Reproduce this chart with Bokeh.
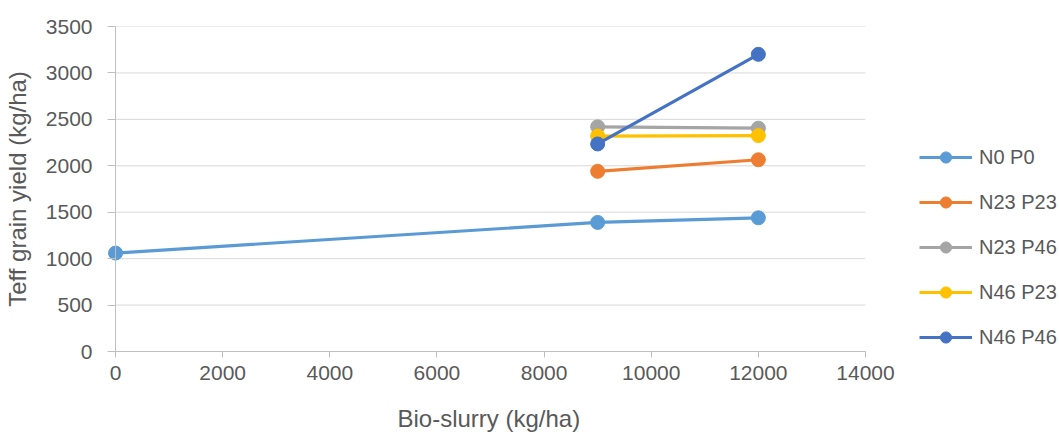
from bokeh.plotting import figure
from bokeh.models import Range1d, Span, Legend, LegendItem, FixedTicker, Title
from bokeh.embed import file_html
from bokeh.resources import INLINE

series_names = ["N0 P0", "N23 P23", "N23 P46", "N46 P23", "N46 P46"]
x_n0p0 = [0, 9000, 12000]
y_n0p0 = [1060, 1390, 1440]
x_pair = [9000, 12000]
y_n23p23 = [1940, 2065]
y_n23p46 = [2420, 2405]
y_n46p23 = [2320, 2325]
y_n46p46 = [2235, 3200]
colors = ["#5B9BD5", "#ED7D31", "#A5A5A5", "#FFC000", "#4472C4"]
x_ticks = [0, 2000, 4000, 6000, 8000, 10000, 12000, 14000]
y_ticks = [0, 500, 1000, 1500, 2000, 2500, 3000, 3500]

FONT = "Liberation Sans"
TXT = "#595959"

p = figure(frame_width=953, frame_height=325, output_backend="svg", toolbar_location=None,
           x_range=Range1d(-150, 17640), y_range=Range1d(0, 3500),
           min_border_left=106, min_border_right=0, min_border_top=26, min_border_bottom=83)
p.outline_line_color = None
p.background_fill_color = "white"

p.xgrid.grid_line_color = None
p.ygrid.grid_line_color = None

# horizontal gridlines spanning only the 0..14000 data extent
p.segment(x0=[0] * len(y_ticks), x1=[x_ticks[-1]] * len(y_ticks), y0=y_ticks, y1=y_ticks,
          line_color="#d9d9d9", line_width=1)

xa = p.xaxis[0]
xa.ticker = FixedTicker(ticks=x_ticks)
xa.bounds = (-130, 14000)
xa.axis_line_color = "#bfbfbf"
xa.major_tick_line_color = "#bfbfbf"
xa.major_tick_out = 6
xa.major_tick_in = 0
xa.minor_tick_line_color = None
xa.major_label_text_font = FONT
xa.major_label_text_font_size = "21px"
xa.major_label_text_color = TXT
xa.major_label_standoff = 8

xtitle = Title(text="Bio-slurry (kg/ha)", align="left", offset=290, standoff=40,
               text_font=FONT, text_font_size="24px", text_font_style="normal",
               text_color=TXT)
p.add_layout(xtitle, "below")

ya = p.yaxis[0]
ya.ticker = FixedTicker(ticks=y_ticks)
ya.axis_line_color = None
ya.major_tick_line_color = "#bfbfbf"
ya.major_tick_out = 0
ya.major_tick_in = 8
ya.minor_tick_line_color = None
ya.major_label_text_font = FONT
ya.major_label_text_font_size = "21px"
ya.major_label_text_color = TXT
ya.major_label_standoff = 15
ya.axis_label = "Teff grain yield (kg/ha)"
ya.axis_label_text_font = FONT
ya.axis_label_text_font_size = "24px"
ya.axis_label_text_font_style = "normal"
ya.axis_label_text_color = TXT
ya.axis_label_standoff = 12

p.add_layout(Span(location=0, dimension="height", line_color="#bfbfbf", line_width=1))

data = [(x_n0p0, y_n0p0), (x_pair, y_n23p23), (x_pair, y_n23p46), (x_pair, y_n46p23), (x_pair, y_n46p46)]
items = []
for name, (xs, ys), c in zip(series_names, data, colors):
    l = p.line(xs, ys, line_color=c, line_width=3.2)
    s = p.scatter(xs, ys, size=14, fill_color=c, line_color=c)
    items.append(LegendItem(label=name, renderers=[l, s]))

legend = Legend(items=items, location=(812, 0))
legend.padding = 0
legend.margin = 0
legend.spacing = 17
legend.glyph_width = 53
legend.glyph_height = 28
legend.label_height = 28
legend.label_standoff = 7
legend.label_text_font = FONT
legend.label_text_font_size = "20px"
legend.label_text_color = TXT
legend.border_line_color = None
legend.background_fill_alpha = 0
p.add_layout(legend, "center")

open("out.html", "w").write(file_html(p, INLINE))
